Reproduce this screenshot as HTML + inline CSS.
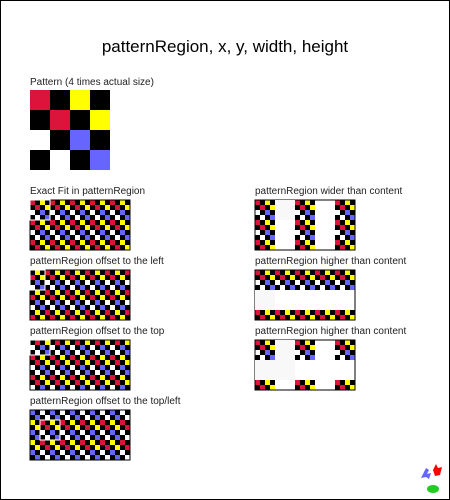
<!DOCTYPE html>
<html><head><meta charset="utf-8"><style>
html,body{margin:0;padding:0;background:#fff}
svg{display:block;font-family:"Liberation Sans",sans-serif}
</style></head><body>
<svg width="450" height="500" viewBox="0 0 450 500">
<defs>
<g id="tile">
<rect width="20" height="20" fill="#fff"/>
<rect x="0" y="0" width="5" height="5" fill="#dc143c"/><rect x="5" y="0" width="5" height="5" fill="#000"/><rect x="10" y="0" width="5" height="5" fill="#ff0"/><rect x="15" y="0" width="5" height="5" fill="#000"/>
<rect x="0" y="5" width="5" height="5" fill="#000"/><rect x="5" y="5" width="5" height="5" fill="#dc143c"/><rect x="10" y="5" width="5" height="5" fill="#000"/><rect x="15" y="5" width="5" height="5" fill="#ff0"/>
<rect x="5" y="10" width="5" height="5" fill="#000"/><rect x="10" y="10" width="5" height="5" fill="#66f"/><rect x="15" y="10" width="5" height="5" fill="#000"/>
<rect x="0" y="15" width="5" height="5" fill="#000"/><rect x="10" y="15" width="5" height="5" fill="#000"/><rect x="15" y="15" width="5" height="5" fill="#66f"/>
</g>
<pattern id="p1" patternUnits="userSpaceOnUse" x="30" y="200" width="20" height="20"><use href="#tile"/></pattern>
<pattern id="p2" patternUnits="userSpaceOnUse" x="25" y="270" width="20" height="20"><use href="#tile"/></pattern>
<pattern id="p3" patternUnits="userSpaceOnUse" x="30" y="335" width="20" height="20"><use href="#tile"/></pattern>
<pattern id="p4" patternUnits="userSpaceOnUse" x="20" y="400" width="20" height="20"><use href="#tile"/></pattern>
<pattern id="p5" patternUnits="userSpaceOnUse" x="255" y="200" width="40" height="20"><rect width="40" height="20" fill="#fff"/><use href="#tile"/></pattern>
<pattern id="p6" patternUnits="userSpaceOnUse" x="255" y="270" width="20" height="40"><rect width="20" height="40" fill="#fff"/><use href="#tile"/></pattern>
<pattern id="p7" patternUnits="userSpaceOnUse" x="255" y="340" width="40" height="40"><rect width="40" height="40" fill="#fff"/><use href="#tile"/></pattern>
</defs>
<rect x="0.5" y="0.5" width="449" height="499" fill="#fff" stroke="#000"/>
<text x="225" y="52" font-size="17" text-anchor="middle">patternRegion, x, y, width, height</text>
<text x="30" y="85" font-size="10" fill="#222">Pattern (4 times actual size)</text>
<g transform="translate(30,90) scale(4)"><use href="#tile"/></g>

<g font-size="10" fill="#222">
<text x="30" y="194">Exact Fit in patternRegion</text>
<text x="30" y="264">patternRegion offset to the left</text>
<text x="30" y="334">patternRegion offset to the top</text>
<text x="30" y="404">patternRegion offset to the top/left</text>
<text x="255" y="194">patternRegion wider than content</text>
<text x="255" y="264">patternRegion higher than content</text>
<text x="255" y="334">patternRegion higher than content</text>
</g>

<rect x="30" y="200" width="100" height="50" fill="url(#p1)" stroke="#000"/>
<rect x="30" y="200" width="20" height="20" fill="none" stroke="#fff"/>
<rect x="30" y="270" width="100" height="50" fill="url(#p2)" stroke="#000"/>
<rect x="30" y="270" width="15" height="20" fill="none" stroke="#fff"/>
<rect x="30" y="340" width="100" height="50" fill="url(#p3)" stroke="#000"/>
<rect x="30" y="340" width="20" height="15" fill="none" stroke="#fff"/>
<rect x="30" y="410" width="100" height="50" fill="url(#p4)" stroke="#000"/>
<rect x="40" y="420" width="20" height="20" fill="none" stroke="#fff"/>

<rect x="255" y="200" width="100" height="50" fill="url(#p5)" stroke="#000"/>
<rect x="275" y="200" width="20" height="20" fill="#f8f8f8"/>
<rect x="255" y="270" width="100" height="50" fill="url(#p6)" stroke="#000"/>
<rect x="255" y="290" width="20" height="20" fill="#f8f8f8"/>
<rect x="255" y="340" width="100" height="50" fill="url(#p7)" stroke="#000"/>
<rect x="275" y="340" width="20" height="40" fill="#f8f8f8"/>
<rect x="255" y="360" width="20" height="20" fill="#f8f8f8"/>

<g>
<path d="M421 478 l5 -10 l3 2 l-2 4 l4 -1 l-2 6 l-3 -2 z" fill="#66f"/>
<path d="M433 470 l3 -6 l2 4 l4 -1 l-2 8 l-5 1 z" fill="#f00"/>
<ellipse cx="433" cy="489" rx="6" ry="4" fill="#2c2"/>
</g>
</svg>
</body></html>
